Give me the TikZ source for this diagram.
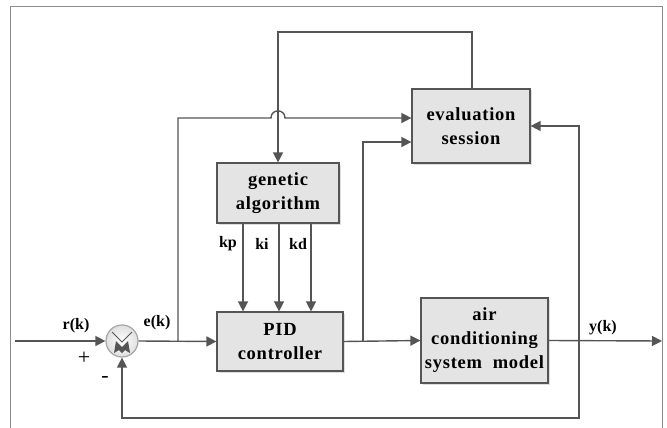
\documentclass[tikz,border=0pt]{standalone}
\usepackage{fontspec}
\setmainfont{Liberation Serif}
\newfontfamily\boxfont[LetterSpace=4]{Liberation Serif}
\usetikzlibrary{arrows.meta,shadows}
\definecolor{ln}{HTML}{555555}
\definecolor{bx}{HTML}{E4E4E4}
\tikzset{
  blk/.style={draw=ln, line width=1.2pt, fill=bx, align=center, inner sep=2pt,
    font=\boxfont\fontsize{18.5}{24}\selectfont\bfseries,
    drop shadow={shadow xshift=1.5pt, shadow yshift=-1.5pt, opacity=0.25}},
  con/.style={draw=ln, line width=1.4pt},
  arr/.style={con, -{Triangle[length=10pt,width=10pt]}},
  lbl/.style={font=\fontsize{16}{18}\selectfont\bfseries, inner sep=0pt},
  sgn/.style={font=\fontsize{22}{24}\selectfont, inner sep=0pt},
}
\begin{document}
\begin{tikzpicture}[x=1pt,y=-1pt]
\useasboundingbox (0,0) rectangle (667,428);
% frame
\draw[color=gray!90, line width=1pt] (10,428) -- (10,7) -- (662,7) -- (662,428);
% blocks
\node[blk, minimum width=118pt, minimum height=74pt] (eval) at (471,126) {evaluation\\session};
\node[blk, minimum width=122pt, minimum height=60pt] (ga) at (278,193) {genetic\\algorithm};
\node[blk, minimum width=126pt, minimum height=59pt] (pid) at (280,341.5) {PID\\controller};
\node[blk, minimum width=127pt, minimum height=85pt] (air) at (484.5,340.5) {air\\conditioning\\system\ \ model};
% summing junction
\node[circle, draw=gray!70, line width=1.2pt, inner color=white, outer color=gray!25, minimum size=32pt, inner sep=0pt] (sum) at (122,341) {};
\draw[ln, line width=1pt] ([shift={(-10,-9)}]sum.center) -- ([shift={(0,1)}]sum.center) -- ([shift={(10,-9)}]sum.center);
\fill[ln] ([shift={(-8,12)}]sum.center) -- ([shift={(-6,0)}]sum.center) -- ([shift={(0,6)}]sum.center)
  -- ([shift={(6,0)}]sum.center) -- ([shift={(8,12)}]sum.center) -- ([shift={(3,9)}]sum.center)
  -- ([shift={(0,12)}]sum.center) -- ([shift={(-3,9)}]sum.center) -- cycle;
% coordinates
\coordinate (in) at (15,341);
\coordinate (out) at (662,341);
\coordinate (b1) at (178,341);
\coordinate (b2) at (363,341);
\coordinate (b3) at (579,341);
\coordinate (top1) at (472,32);
\coordinate (top2) at (278,32);
\coordinate (bot1) at (579,418);
\coordinate (bot2) at (122,418);
\coordinate (hopA) at (271,118);
\coordinate (hopB) at (285,118);
\coordinate (hopC1) at (271,108.5);
\coordinate (hopC2) at (285,108.5);
% main path
\draw[arr] (in) -- (sum.west);
\draw[arr] (sum.east) -- (pid.west);
\draw[arr] (pid.east) -- (air.west);
\draw[arr] (air.east) -- (out);
% branches to evaluation
\draw[arr] (b1) -- (b1 |- hopA) -- (hopA) .. controls (hopC1) and (hopC2) .. (hopB) -- ([yshift=8pt]eval.west);
\draw[arr] (b2) |- ([yshift=-16pt]eval.west);
\draw[arr] (b3) |- (eval.east);
% feedback
\draw[arr] (b3) -- (bot1) -- (bot2) -- (sum.south);
% evaluation to GA
\draw[arr] (eval.north -| top1) -- (top1) -- (top2) -- (ga.north);
% GA to PID
\draw[arr] ([xshift=-35pt]ga.south) -- ([xshift=-37pt]pid.north);
\draw[arr] ([xshift=1pt]ga.south) -- ([xshift=-1pt]pid.north);
\draw[arr] ([xshift=33pt]ga.south) -- ([xshift=31pt]pid.north);
% labels
\node[lbl] (lr) at (76,326) {r(k)};
\node[sgn] (lplus) at (84,358) {+};
\node[sgn] (lminus) at (105,379) {-};
\node[lbl] (le) at (157,323) {e(k)};
\node[lbl] (ly) at (603,328) {y(k)};
\node[lbl] (lkp) at (228,244) {kp};
\node[lbl] (lki) at (262,244) {ki};
\node[lbl] (lkd) at (298,244) {kd};
\end{tikzpicture}
\end{document}
